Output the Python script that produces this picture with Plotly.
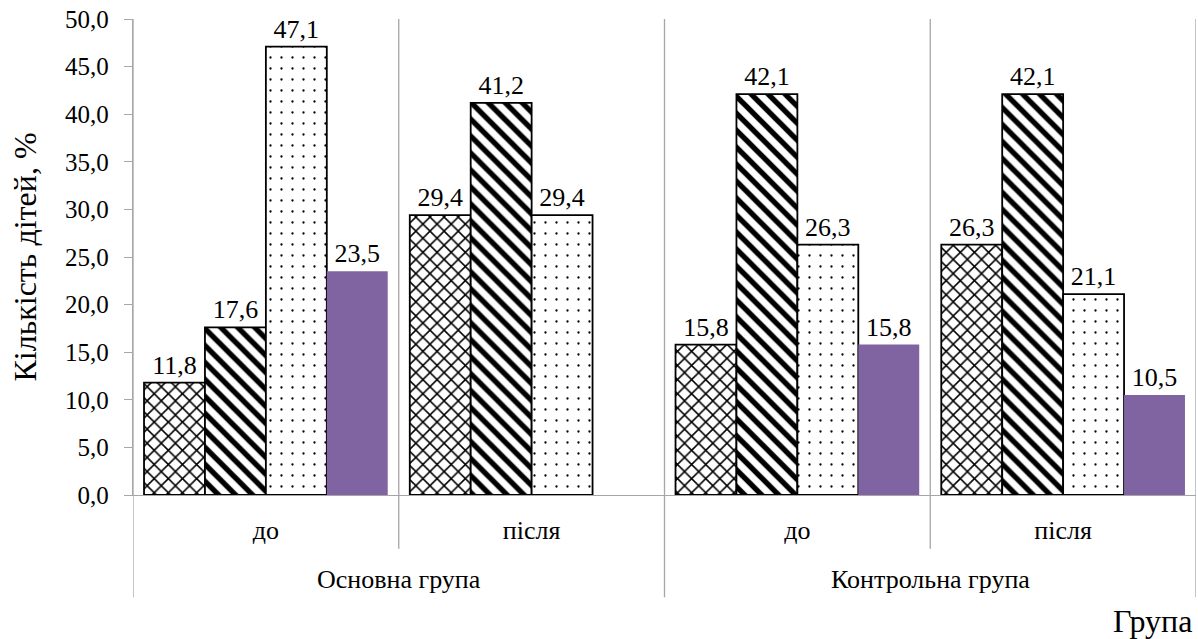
import plotly.graph_objects as go

# ---- data ----
groups = ["Основна група", "Основна група", "Контрольна група", "Контрольна група"]
periods = ["до", "після", "до", "після"]
series1 = [11.8, 29.4, 15.8, 26.3]   # crosshatch
series2 = [17.6, 41.2, 42.1, 42.1]   # diagonal stripes
series3 = [47.1, 29.4, 26.3, 21.1]   # dots
series4 = [23.5, None, 15.8, 10.5]   # purple solid
y_ticks = [0, 5, 10, 15, 20, 25, 30, 35, 40, 45, 50]
y_title = "Кількість дітей, %"
x_title = "Група"

FONT = "Liberation Serif, Times New Roman, serif"
GRAY = "#A6A6A6"
LBL = 26

xs = list(range(len(periods)))

fig = go.Figure()

styles = [
    dict(shape="x", size=10, solidity=0.28, fgcolor="black", bgcolor="white", fgopacity=1, fillmode="replace"),
    dict(shape="\\", size=12, solidity=0.45, fgcolor="black", bgcolor="white", fgopacity=1, fillmode="replace"),
    dict(shape=".", size=11, solidity=0.035, fgcolor="black", bgcolor="white", fgopacity=1, fillmode="replace"),
]
for vals, pat in zip([series1, series2, series3], styles):
    fig.add_trace(go.Bar(
        x=xs, y=vals,
        marker=dict(color="white", pattern=pat, line=dict(color="black", width=1.8)),
        texttemplate="%{y:.1f}", textposition="outside",
        textfont=dict(family=FONT, size=LBL, color="black"),
        cliponaxis=False, showlegend=False,
    ))
fig.add_trace(go.Bar(
    x=xs, y=series4,
    marker=dict(color="#8064A2", line=dict(width=0)),
    texttemplate="%{y:.1f}", textposition="outside",
    textfont=dict(family=FONT, size=LBL, color="black"),
    cliponaxis=False, showlegend=False,
))

shapes = []
inner = [0.5, 2.5]
outer = [-0.5, 1.5, 3.5]
for xv in inner:
    shapes.append(dict(type="line", xref="x", yref="paper", x0=xv, x1=xv, y0=1, y1=-0.113,
                       line=dict(color=GRAY, width=1.3)))
for xv in outer:
    shapes.append(dict(type="line", xref="x", yref="paper", x0=xv, x1=xv, y0=1, y1=-0.215,
                       line=dict(color=GRAY, width=1.3)))

annotations = []
seen = []
for g in groups:
    if g not in seen:
        seen.append(g)
        idx = [j for j, gg in enumerate(groups) if gg == g]
        cx = sum(idx) / len(idx)
        annotations.append(dict(x=cx, y=-0.178, xref="x", yref="paper", text=g, showarrow=False,
                                font=dict(family=FONT, size=LBL, color="black"),
                                xanchor="center", yanchor="middle"))
annotations.append(dict(x=(1152 - 133) / (1196 - 133), y=-0.265, xref="paper", yref="paper",
                        text=x_title, showarrow=False,
                        font=dict(family=FONT, size=32, color="black"),
                        xanchor="center", yanchor="middle"))

fig.update_layout(
    width=1198, height=639,
    margin=dict(l=133, r=2, t=19, b=144, autoexpand=False),
    paper_bgcolor="white", plot_bgcolor="white",
    barmode="group", bargap=0.083, bargroupgap=0,
    separators=", ",
    font=dict(family=FONT, size=LBL, color="black"),
    shapes=shapes, annotations=annotations,
    xaxis=dict(range=[-0.5, 3.5], tickvals=xs, ticktext=periods, showgrid=False,
               zeroline=False, showline=True, linecolor=GRAY, linewidth=1.3,
               ticks="", ticklabelstandoff=12, automargin=False,
               tickfont=dict(family=FONT, size=LBL, color="black")),
    yaxis=dict(range=[0, 50], tickvals=y_ticks, tickformat=".1f", showgrid=False,
               zeroline=False, showline=True, linecolor=GRAY, linewidth=1.3,
               ticks="outside", ticklen=8, tickcolor=GRAY, ticklabelstandoff=10,
               automargin=False,
               tickfont=dict(family=FONT, size=25, color="black"),
               title=dict(text=y_title, font=dict(family=FONT, size=32, color="black"), standoff=18)),
)

fig.write_html("out.html", config={"displayModeBar": False},
               post_script="document.body.style.margin='0';document.body.style.padding='0';")
